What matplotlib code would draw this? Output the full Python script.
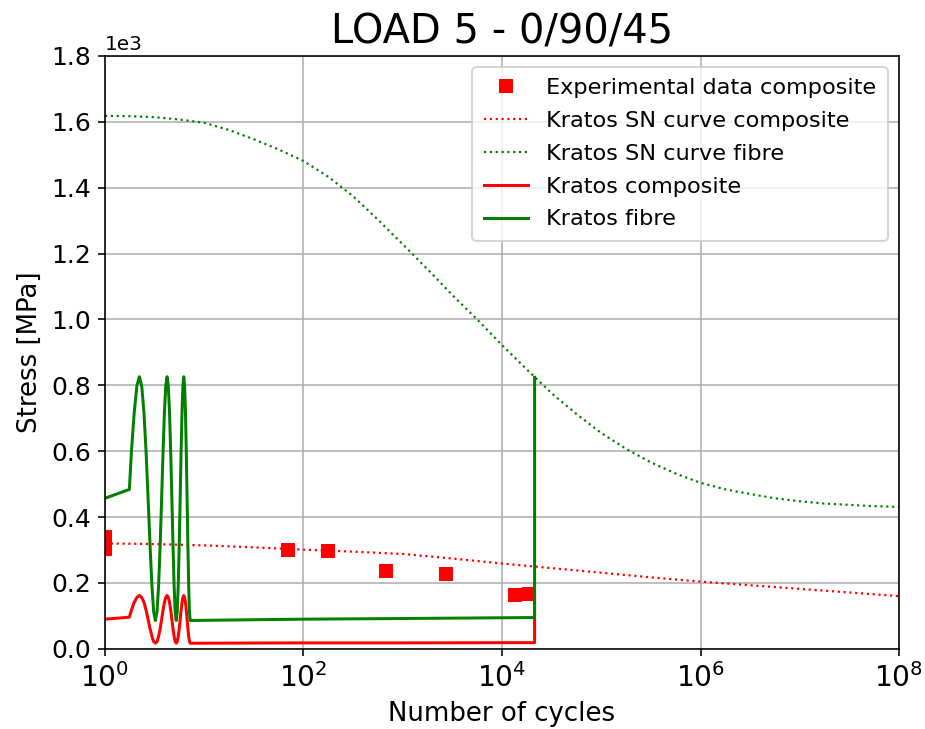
import matplotlib
matplotlib.use('Agg')
import matplotlib.pyplot as plt
from matplotlib.ticker import NullLocator

# Experimental fatigue results for the composite (cycles to failure, stress in MPa)
exp_cycles = [1, 1, 70, 176, 675, 2700, 13400, 18900]
exp_stress = [338, 303, 299, 296, 235, 226, 162, 165]

# SN curve of the composite, every half decade
sn_comp_cycles = [1e0, 3.16e0, 1e1, 3.16e1, 1e2, 3.16e2, 1e3, 3.16e3, 1e4,
                  3.16e4, 1e5, 3.16e5, 1e6, 3.16e6, 1e7, 3.16e7, 1e8]
sn_composite = [320, 318, 314, 308, 301, 295, 288, 274, 259,
                245, 231, 217, 204, 193, 182, 171, 160]

# SN curve of the fibre, every quarter decade
sn_fibre_cycles = [1e0, 1.78e0, 3.16e0, 5.62e0, 1e1, 1.78e1, 3.16e1, 5.62e1,
                   1e2, 1.78e2, 3.16e2, 5.62e2, 1e3, 1.78e3, 3.16e3, 5.62e3,
                   1e4, 1.78e4, 3.16e4, 5.62e4, 1e5, 1.78e5, 3.16e5, 5.62e5,
                   1e6, 1.78e6, 3.16e6, 5.62e6, 1e7, 1.78e7, 3.16e7, 5.62e7, 1e8]
sn_fibre = [1618, 1617, 1614, 1607, 1597, 1575, 1547, 1516,
            1481, 1433, 1374, 1303, 1228, 1152, 1074, 1000,
            922, 848, 776, 713, 655, 607, 566, 532,
            504, 484, 470, 457, 448, 441, 437, 433, 431]

# Kratos stress history (same cycle axis for composite and fibre)
kratos_cycles = [1, 1.76,
                 1.845, 1.97, 2.095, 2.22, 2.345, 2.47, 2.595, 2.72,
                 2.845, 2.97, 3.095, 3.22, 3.345, 3.47, 3.595, 3.72,
                 3.845, 3.97, 4.095, 4.22, 4.345, 4.47, 4.595, 4.72,
                 4.845, 4.97, 5.095, 5.22, 5.345, 5.47, 5.595, 5.72,
                 5.845, 5.97, 6.095, 6.22, 6.345, 6.47, 6.595, 6.72,
                 6.845, 6.97, 7.095, 7.22,
                 100, 1000, 21300, 21300]
kratos_fibre = [457, 484,
                597, 717, 798, 826, 798, 717, 597, 455,
                313, 193, 112, 86, 112, 193, 313, 455,
                597, 717, 798, 826, 798, 717, 597, 455,
                313, 193, 112, 86, 112, 193, 313, 455,
                597, 717, 798, 826, 798, 717, 597, 455,
                313, 193, 112, 86,
                90, 92, 95, 824]
kratos_composite = [90, 96,
                    117, 141, 156, 162, 156, 141, 117, 89,
                    61, 38, 22, 17, 22, 38, 61, 89,
                    117, 141, 156, 162, 156, 141, 117, 89,
                    61, 38, 22, 17, 22, 38, 61, 89,
                    117, 141, 156, 162, 156, 141, 117, 89,
                    61, 38, 22, 17,
                    18, 18, 18.7, 163]

fig = plt.figure(figsize=(925 / 144, 729 / 144), dpi=144)
ax = fig.add_axes([0.1135, 0.110, 0.9719 - 0.1135, 0.9233 - 0.110])

ax.plot(exp_cycles, exp_stress, 's', color='red', label='Experimental data composite')
ax.plot(sn_comp_cycles, sn_composite, ':', color='red', lw=1.1, label='Kratos SN curve composite')
ax.plot(sn_fibre_cycles, sn_fibre, ':', color='green', lw=1.1, label='Kratos SN curve fibre')
ax.plot(kratos_cycles, kratos_composite, '-', color='red', label='Kratos composite')
ax.plot(kratos_cycles, kratos_fibre, '-', color='green', label='Kratos fibre')

ax.set_xscale('log')
ax.set_xlim(1, 1e8)
ax.set_ylim(0, 1800)
ax.set_xticks([1e0, 1e2, 1e4, 1e6, 1e8])
ax.xaxis.set_minor_locator(NullLocator())
ax.set_yticks([0, 200, 400, 600, 800, 1000, 1200, 1400, 1600, 1800])
ax.ticklabel_format(axis='y', style='sci', scilimits=(3, 3))
ax.tick_params(axis='x', labelsize=14)
ax.tick_params(axis='y', labelsize=12.5)
ax.grid(True)

ax.set_title('LOAD 5 - 0/90/45', fontsize=20)
ax.set_xlabel('Number of cycles', fontsize=13)
ax.set_ylabel('Stress [MPa]', fontsize=13)
ax.legend(loc='upper right', fontsize=11.2, labelspacing=0.57, borderpad=0.5)

fig.savefig('out.png', dpi=144)
